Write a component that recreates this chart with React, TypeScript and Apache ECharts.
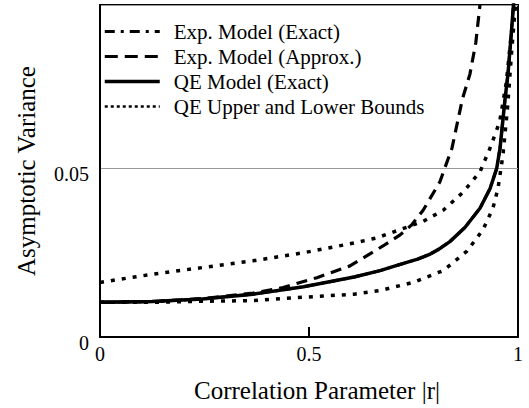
import React, { useEffect, useRef } from "react";
import * as echarts from "echarts";

const xTickLabels = ["0", "0.5", "1"];
const yTickLabels = ["0", "0.05"];

// QE Model (Exact)
const rQE = [0, 0.124, 0.245, 0.366, 0.487, 0.608, 0.67, 0.72, 0.76, 0.79, 0.81, 0.837, 0.873, 0.909, 0.933, 0.949, 0.957, 0.969, 0.976, 0.984, 0.99];
const vQE = [0.0103, 0.0105, 0.0113, 0.0127, 0.0149, 0.0178, 0.0197, 0.0216, 0.0231, 0.0246, 0.026, 0.0283, 0.0325, 0.0382, 0.044, 0.05, 0.056, 0.0706, 0.078, 0.09, 0.1];

// Exp. Model (Exact) — drawn underneath the QE exact curve, which it coincides with
const rExpExact = [0, 0.124, 0.245, 0.366, 0.487, 0.608, 0.67, 0.72, 0.76, 0.79, 0.81, 0.837, 0.873, 0.909, 0.933, 0.949, 0.957, 0.969, 0.976, 0.984, 0.99];
const vExpExact = [0.0103, 0.0105, 0.0113, 0.0127, 0.0149, 0.0178, 0.0197, 0.0216, 0.0231, 0.0246, 0.026, 0.0283, 0.0325, 0.0382, 0.044, 0.05, 0.056, 0.0706, 0.078, 0.09, 0.1];

// Exp. Model (Approx.)
const rExpApprox = [0, 0.124, 0.245, 0.366, 0.438, 0.519, 0.598, 0.677, 0.718, 0.746, 0.773, 0.813, 0.842, 0.867, 0.885, 0.899, 0.909];
const vExpApprox = [0.0103, 0.0105, 0.0114, 0.013, 0.0147, 0.0176, 0.0211, 0.027, 0.0303, 0.0333, 0.0376, 0.046, 0.056, 0.0706, 0.078, 0.0873, 0.0985];

// QE Upper Bound
const rUpper = [0, 0.124, 0.245, 0.366, 0.487, 0.608, 0.662, 0.773, 0.821, 0.869, 0.909, 0.933, 0.956, 0.972, 0.984, 0.992];
const vUpper = [0.0162, 0.0186, 0.0206, 0.0226, 0.025, 0.0279, 0.0294, 0.0343, 0.0376, 0.043, 0.049, 0.056, 0.0638, 0.0755, 0.09, 0.0985];

// QE Lower Bound
const rLower = [0, 0.124, 0.245, 0.366, 0.487, 0.608, 0.67, 0.749, 0.821, 0.85, 0.878, 0.916, 0.94, 0.952, 0.964, 0.975, 0.985, 0.994];
const vLower = [0.0103, 0.0103, 0.0106, 0.0108, 0.0118, 0.0127, 0.0138, 0.0162, 0.0197, 0.0226, 0.0255, 0.0318, 0.0382, 0.044, 0.054, 0.068, 0.085, 0.0985];

const legendNames = ["Exp. Model (Exact)", "Exp. Model (Approx.)", "QE Model (Exact)", "QE Upper and Lower Bounds"];

const zip = (xs: number[], ys: number[]) => xs.map((x, i) => [x, ys[i]]);

const FONT = "'Liberation Serif', 'Times New Roman', Times, serif";

export default function App() {
  const ref = useRef<HTMLDivElement>(null);
  useEffect(() => {
    if (!ref.current) return;
    const chart = echarts.init(ref.current, undefined, { renderer: "svg" });
    const lineBase = { type: "line", symbol: "none", showSymbol: false, smooth: false, clip: true, color: "#000" };
    const dotted = { color: "#000", width: 3.5, type: [4, 7] };
    chart.setOption({
      animation: false,
      backgroundColor: "#ffffff",
      color: ["#000"],
      textStyle: { fontFamily: FONT, color: "#000" },
      grid: {
        left: 100,
        right: 11,
        top: 5,
        bottom: 68,
        show: true,
        borderColor: "#000",
        borderWidth: 2,
        backgroundColor: "transparent",
      },
      legend: {
        orient: "vertical",
        left: 98,
        top: 16,
        itemWidth: 55,
        itemHeight: 14,
        itemGap: 4,
        itemStyle: { opacity: 0 },
        textStyle: { fontFamily: FONT, fontSize: 21, color: "#000", padding: [0, 0, 0, 9] },
        data: [
          { name: legendNames[0], lineStyle: { color: "#000", width: 3, type: [10, 6, 3, 6] } },
          { name: legendNames[1], lineStyle: { color: "#000", width: 3, type: [13, 7] } },
          { name: legendNames[2], lineStyle: { color: "#000", width: 3.5, type: "solid" } },
          { name: legendNames[3], lineStyle: { color: "#000", width: 2.5, type: [3, 3] } },
        ],
      },
      xAxis: {
        type: "value",
        min: 0,
        max: 1,
        interval: 0.5,
        name: "Correlation Parameter |r|",
        nameLocation: "middle",
        nameGap: 41,
        nameTextStyle: { fontFamily: FONT, fontSize: 25, color: "#000", padding: [0, 0, 0, 16] },
        axisLine: { show: true, lineStyle: { color: "#000", width: 2 } },
        axisTick: { show: true, inside: true, length: 10, lineStyle: { color: "#000", width: 2 } },
        axisLabel: {
          fontFamily: FONT,
          fontSize: 20,
          color: "#000",
          margin: 7,
          formatter: (v: number) => (v === 0 ? xTickLabels[0] : v === 0.5 ? xTickLabels[1] : xTickLabels[2]),
        },
        splitLine: { show: false },
      },
      yAxis: {
        type: "value",
        min: 0,
        max: 0.0985,
        interval: 0.05,
        name: "Asymptotic Variance",
        nameLocation: "middle",
        nameGap: 61,
        nameTextStyle: { fontFamily: FONT, fontSize: 25, color: "#000" },
        axisLine: { show: true, lineStyle: { color: "#000", width: 2 } },
        axisTick: { show: false },
        axisLabel: {
          fontFamily: FONT,
          fontSize: 20,
          color: "#000",
          margin: 11,
          padding: [0, 0, 0, 0],
          verticalAlign: "top",
          lineHeight: 12,
          showMaxLabel: false,
          formatter: (v: number) => (v === 0 ? yTickLabels[0] : yTickLabels[1]),
        },
        splitLine: { show: true, lineStyle: { color: "#999", width: 1 } },
      },
      series: [
        {
          ...lineBase,
          name: legendNames[0],
          data: zip(rExpExact, vExpExact),
          lineStyle: { color: "#000", width: 3, type: [10, 5, 3, 5] },
          z: 1,
        },
        {
          ...lineBase,
          name: legendNames[1],
          data: zip(rExpApprox, vExpApprox),
          lineStyle: { color: "#000", width: 3.2, type: [11, 7] },
          z: 2,
        },
        {
          ...lineBase,
          name: legendNames[2],
          data: zip(rQE, vQE),
          lineStyle: { color: "#000", width: 3.5, type: "solid" },
          z: 3,
        },
        {
          ...lineBase,
          name: legendNames[3],
          data: zip(rUpper, vUpper),
          lineStyle: dotted,
          z: 2,
        },
        {
          ...lineBase,
          name: legendNames[3],
          data: zip(rLower, vLower),
          lineStyle: dotted,
          z: 2,
        },
      ],
    });
    return () => chart.dispose();
  }, []);
  return (
    <div
      ref={ref}
      style={{ position: "fixed", left: 0, top: 0, width: 529, height: 408, background: "#fff" }}
    />
  );
}
